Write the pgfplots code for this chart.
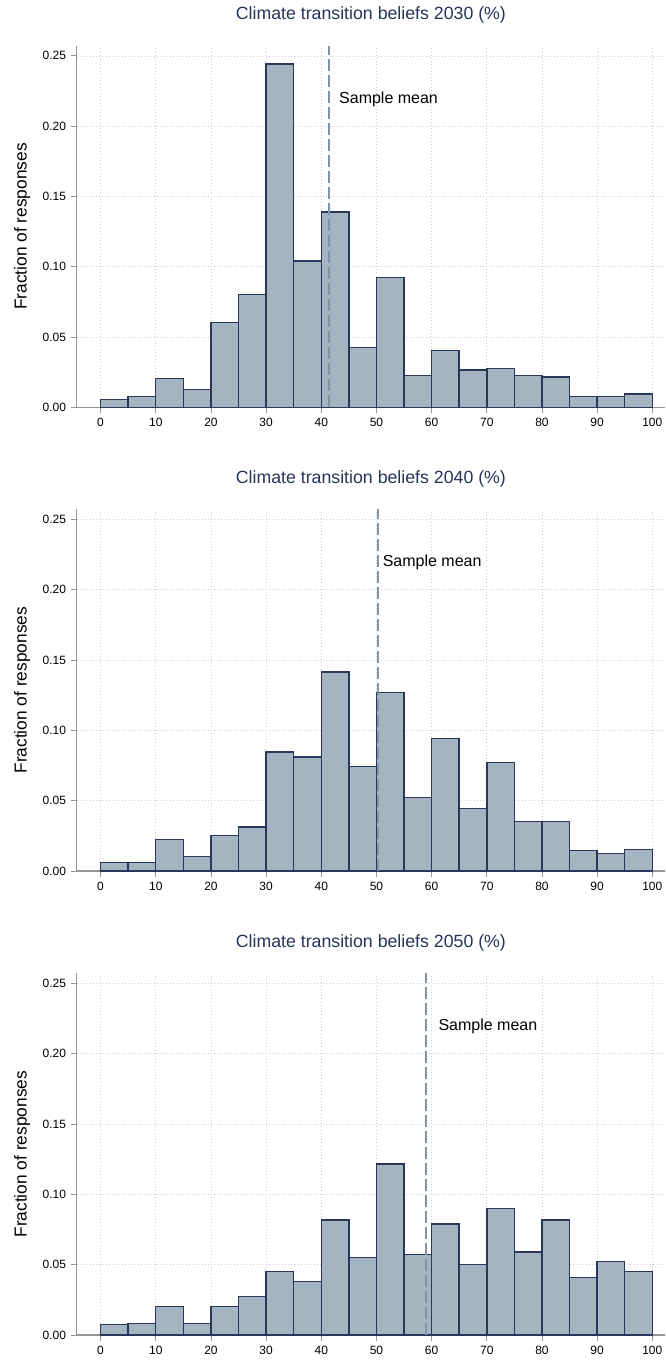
\documentclass[border=0pt]{standalone}
\usepackage{fontspec}
\setmainfont{Liberation Sans}
\usepackage{pgfplots}
\pgfplotsset{compat=1.18}
\definecolor{barfill}{RGB}{164,180,192}
\definecolor{baredge}{RGB}{40,55,90}
\definecolor{meanline}{RGB}{125,148,170}
\definecolor{titlecol}{RGB}{38,52,88}
\definecolor{axiscol}{RGB}{150,150,150}
\tikzset{meantext/.style={anchor=west, inner sep=0pt, font=\fontsize{12}{14}\selectfont}}
\pgfplotsset{
  panel/.style={
    scale only axis,
    anchor=south west,
    width=441.15pt, height=271.2pt,
    xmin=-4.31, xmax=102.3,
    ymin=0, ymax=0.2572,
    axis lines*=left,
    axis line style={axiscol, line width=0.8pt},
    xtick={0,10,...,100},
    ytick={0,0.05,0.10,0.15,0.20,0.25},
    yticklabel style={/pgf/number format/.cd, fixed, fixed zerofill, precision=2},
    /pgf/number format/assume math mode=true,
    tick align=outside,
    major tick length=4.5pt,
    tick style={axiscol, line width=0.6pt},
    ticklabel style={font=\fontsize{9}{11}\selectfont},
    grid=major,
    major grid style={dotted, gray!40, line width=0.5pt},
    ylabel={Fraction of responses},
    ylabel style={at={(axis description cs:0,0.5)}, anchor=center, yshift=41pt, font=\fontsize{13}{15}\selectfont},
    title style={at={(axis description cs:0.5,1)}, anchor=center, yshift=17pt, font=\fontsize{13.3}{15}\selectfont, text=titlecol},
    clip=false,
  },
  bars/.style={ybar interval, fill=barfill, draw=baredge, line width=1.1pt},
  meanl/.style={meanline, line width=1.5pt, dash pattern=on 9pt off 3pt},
}
\begin{document}
\begin{tikzpicture}
\useasboundingbox (0,0) rectangle (498.75pt,1021.5pt);
% Panel 1: 2030
\begin{axis}[panel, at={(57.6pt,716pt)}, title={Climate transition beliefs 2030 (\%)}]
\addplot[bars] coordinates {
(0,0.0057) (5,0.0076) (10,0.0204) (15,0.0128) (20,0.0602) (25,0.0801)
(30,0.2443) (35,0.1040) (40,0.1389) (45,0.0424) (50,0.0922) (55,0.0225)
(60,0.0405) (65,0.0265) (70,0.0275) (75,0.0225) (80,0.0216) (85,0.0076)
(90,0.0076) (95,0.0095) (100,0.0095)};
\addplot[meanl] coordinates {(41.4,0) (41.4,0.2572)};
\node[meantext] at (axis cs:43.2,0.219) {Sample mean};
\end{axis}
% Panel 2: 2040
\begin{axis}[panel, at={(57.6pt,368.25pt)}, title={Climate transition beliefs 2040 (\%)}]
\addplot[bars] coordinates {
(0,0.0062) (5,0.0062) (10,0.0225) (15,0.0104) (20,0.0254) (25,0.0313)
(30,0.0848) (35,0.0810) (40,0.1417) (45,0.0742) (50,0.1268) (55,0.0521)
(60,0.0941) (65,0.0443) (70,0.0770) (75,0.0353) (80,0.0353) (85,0.0147)
(90,0.0123) (95,0.0154) (100,0.0154)};
\addplot[meanl] coordinates {(50.3,0) (50.3,0.2572)};
\node[meantext] at (axis cs:51.1,0.2195) {Sample mean};
\end{axis}
% Panel 3: 2050
\begin{axis}[panel, at={(57.6pt,20.25pt)}, title={Climate transition beliefs 2050 (\%)}]
\addplot[bars] coordinates {
(0,0.0073) (5,0.0083) (10,0.0201) (15,0.0083) (20,0.0201) (25,0.0273)
(30,0.0450) (35,0.0382) (40,0.0818) (45,0.0550) (50,0.1216) (55,0.0571)
(60,0.0789) (65,0.0500) (70,0.0898) (75,0.0590) (80,0.0818) (85,0.0410)
(90,0.0521) (95,0.0450) (100,0.0450)};
\addplot[meanl] coordinates {(58.9,0) (58.9,0.2572)};
\node[meantext] at (axis cs:61.2,0.2196) {Sample mean};
\end{axis}
\end{tikzpicture}
\end{document}
